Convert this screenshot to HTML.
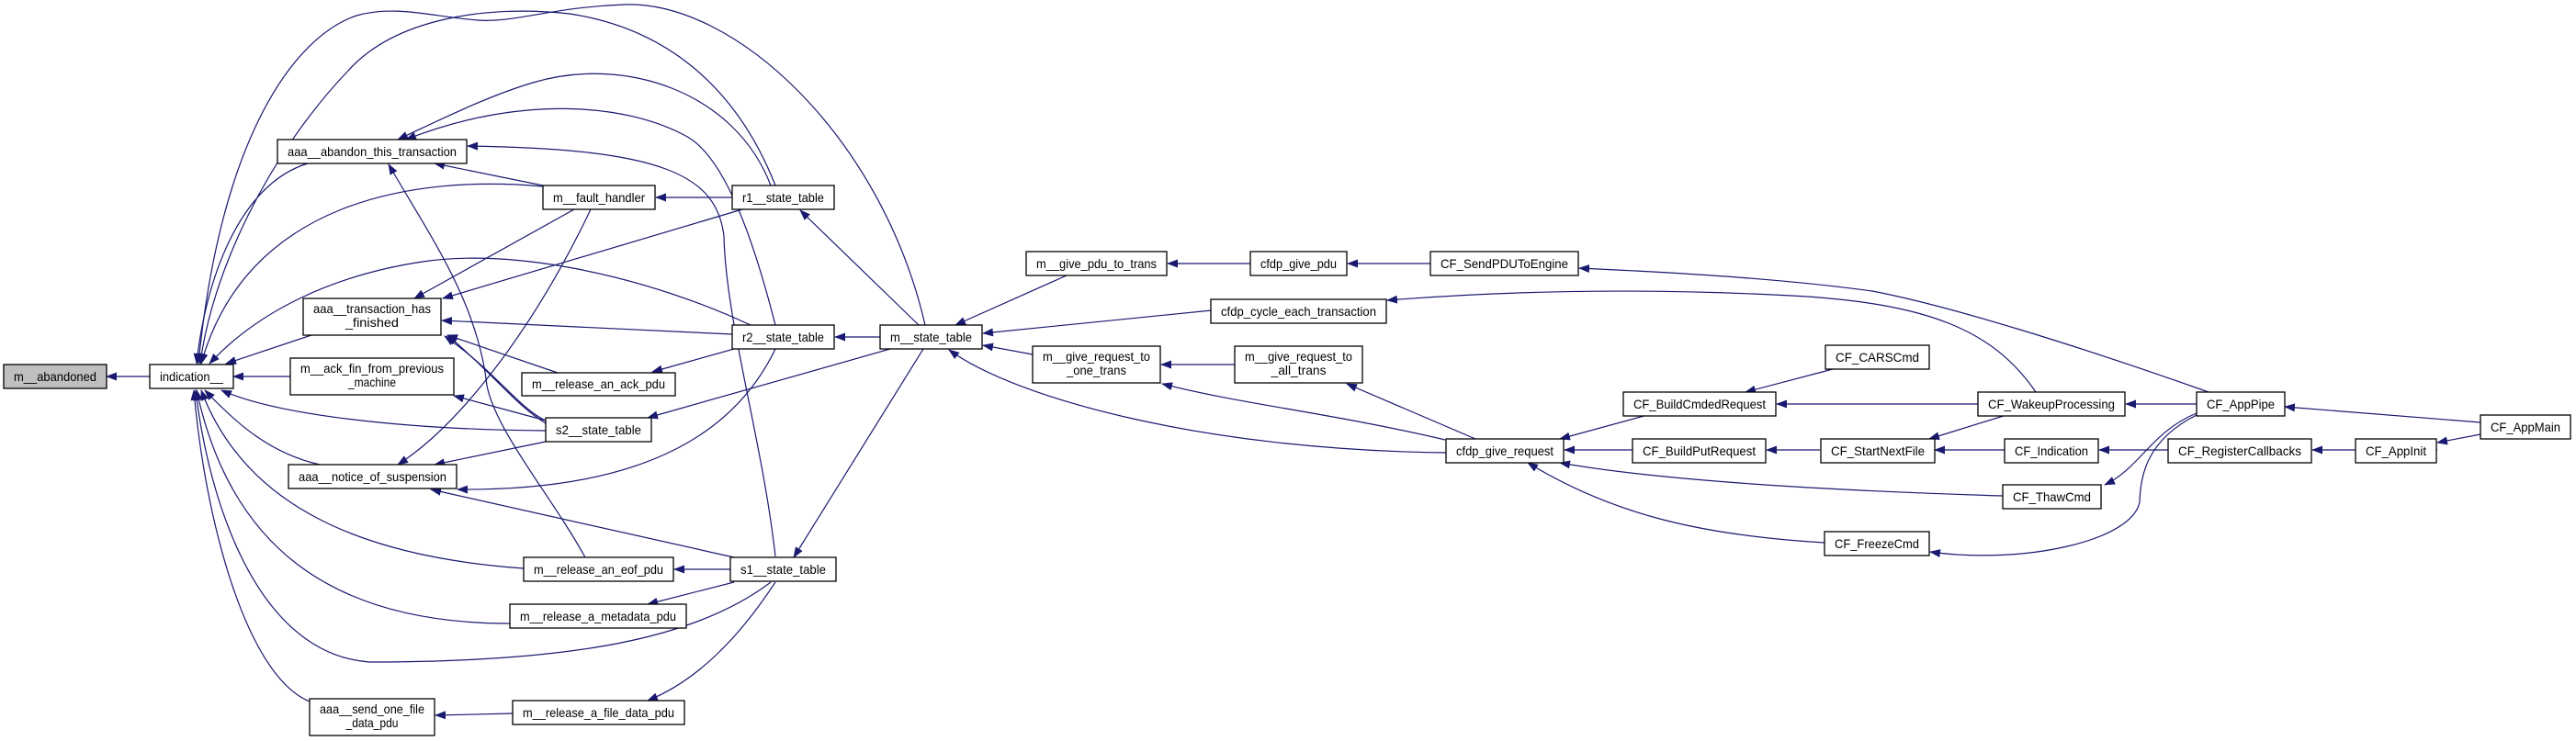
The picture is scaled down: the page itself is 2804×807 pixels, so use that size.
<!DOCTYPE html>
<html><head><meta charset="utf-8"><style>
html,body{margin:0;padding:0;background:#fff;}
svg{display:block;}
text{font-family:"Liberation Sans",sans-serif;font-size:14px;fill:#000;}
.n{fill:#fff;stroke:#000;stroke-width:1.3;}
.e{fill:none;stroke:#191970;stroke-width:1.2;}
</style></head><body>
<svg width="2804" height="807" viewBox="0 0 2804 807" xmlns="http://www.w3.org/2000/svg">
<defs><marker id="a" markerWidth="12" markerHeight="9" refX="11" refY="4.5" orient="auto" markerUnits="userSpaceOnUse"><path d="M0,0 L12,4.5 L0,9 z" fill="#191970"/></marker></defs>
<g class="e" marker-end="url(#a)">
<path d="M163,410 L116,410"/>
<path d="M335,178 C259,201 223,309 214,396"/>
<path d="M591,203 C447,190 268,221 219,396"/>
<path d="M1007,354 C960,150 800,0 679,5 C600,8 560,25 520,22 C470,18 430,5 388,17 C320,40 240,150 216,396"/>
<path d="M844,202 C800,90 720,30 620,15 C530,5 430,20 379,77 C290,170 230,300 218,396"/>
<path d="M817,354 C700,300 560,270 460,285 C360,300 280,340 228,396"/>
<path d="M342,364 L246,396"/>
<path d="M316,410 L254,410"/>
<path d="M594,469 C447,468 304,453 241,425"/>
<path d="M348,506 C295,494 259,463 223,425"/>
<path d="M570,619 C402,607 268,556 219,425"/>
<path d="M555,679 C357,679 250,592 214,425"/>
<path d="M839,634 C759,695 625,721 402,721 C268,711 223,515 213,425"/>
<path d="M337,764 C268,736 223,566 211,425"/>
<path d="M591,202 L473,178"/>
<path d="M839,202 C800,100 680,60 580,90 C530,105 480,130 433,152"/>
<path d="M844,354 C820,260 790,175 750,150 C680,110 560,105 442,152"/>
<path d="M844,606 C830,480 790,350 788,257 C780,190 720,162 509,159"/>
<path d="M637,607 C600,540 540,470 530,420 C520,330 470,260 423,179"/>
<path d="M625,228 L451,325"/>
<path d="M808,228 L482,325"/>
<path d="M797,364 L481,349"/>
<path d="M607,406 L487,365"/>
<path d="M594,461 C560,440 540,410 487,365"/>
<path d="M594,458 C565,445 540,405 484,366"/>
<path d="M594,458 L494,431"/>
<path d="M643,228 C580,360 500,463 433,506"/>
<path d="M594,481 L473,506"/>
<path d="M844,380 C804,463 714,535 498,533"/>
<path d="M799,607 L469,533"/>
<path d="M797,215 L714,215"/>
<path d="M799,380 L710,405"/>
<path d="M958,367 L909,367"/>
<path d="M969,380 L705,455"/>
<path d="M1000,354 L871,229"/>
<path d="M1005,380 L864,607"/>
<path d="M795,620 L734,620"/>
<path d="M799,634 L705,658"/>
<path d="M844,634 C804,695 759,741 705,763"/>
<path d="M558,777 L474,779"/>
<path d="M1161,300 L1040,354"/>
<path d="M1319,338 L1070,363"/>
<path d="M1124,386 L1070,376"/>
<path d="M1574,493 C1308,490 1104,433 1033,381"/>
<path d="M1361,287 L1271,287"/>
<path d="M1557,287 L1467,287"/>
<path d="M1344,397 L1264,397"/>
<path d="M1573,479 C1450,450 1350,440 1265,418"/>
<path d="M1606,478 L1466,418"/>
<path d="M2404,427 C2263,377 2122,333 2038,317 C1950,305 1850,298 1719,292"/>
<path d="M2216,427 C2170,360 2100,330 1950,322 C1800,314 1650,316 1510,327"/>
<path d="M1793,452 L1698,478"/>
<path d="M1777,490 L1703,490"/>
<path d="M2180,540 C1947,533 1787,520 1698,504"/>
<path d="M1986,591 C1851,583 1755,560 1663,504"/>
<path d="M1995,402 L1900,427"/>
<path d="M2153,440 L1934,440"/>
<path d="M1981,490 L1923,490"/>
<path d="M2184,452 L2100,478"/>
<path d="M2182,490 L2106,490"/>
<path d="M2360,490 L2285,490"/>
<path d="M2391,440 L2314,440"/>
<path d="M2391,450 C2342,470 2329,510 2291,528"/>
<path d="M2391,452 C2335,480 2330,520 2329,547 C2320,590 2200,615 2101,601"/>
<path d="M2700,460 L2487,443"/>
<path d="M2564,490 L2653,490" marker-end="none"/>
<path d="M2564,490 L2517,490"/>
<path d="M2700,473 L2653,482"/>
</g>
<g>
<rect class="n" x="4" y="397" width="112" height="26" style="fill:#bfbfbf"/><text x="60" y="415" text-anchor="middle" textLength="90" lengthAdjust="spacingAndGlyphs">m__abandoned</text>
<rect class="n" x="163" y="397" width="91" height="26"/><text x="208.5" y="415" text-anchor="middle" textLength="69" lengthAdjust="spacingAndGlyphs">indication__</text>
<rect class="n" x="302" y="152" width="206" height="26"/><text x="405" y="170" text-anchor="middle" textLength="184" lengthAdjust="spacingAndGlyphs">aaa__abandon_this_transaction</text>
<rect class="n" x="330" y="325" width="150" height="40"/><text x="405" y="341" text-anchor="middle" textLength="128" lengthAdjust="spacingAndGlyphs">aaa__transaction_has</text><text x="405" y="356" text-anchor="middle" textLength="58" lengthAdjust="spacingAndGlyphs">_finished</text>
<rect class="n" x="316" y="390" width="178" height="40"/><text x="405" y="406" text-anchor="middle" textLength="156" lengthAdjust="spacingAndGlyphs">m__ack_fin_from_previous</text><text x="405" y="421" text-anchor="middle" textLength="52" lengthAdjust="spacingAndGlyphs">_machine</text>
<rect class="n" x="314" y="506" width="183" height="26"/><text x="405.5" y="524" text-anchor="middle" textLength="161" lengthAdjust="spacingAndGlyphs">aaa__notice_of_suspension</text>
<rect class="n" x="337" y="761" width="136" height="40"/><text x="405" y="777" text-anchor="middle" textLength="114" lengthAdjust="spacingAndGlyphs">aaa__send_one_file</text><text x="405" y="792" text-anchor="middle" textLength="57" lengthAdjust="spacingAndGlyphs">_data_pdu</text>
<rect class="n" x="591" y="202" width="122" height="26"/><text x="652" y="220" text-anchor="middle" textLength="100" lengthAdjust="spacingAndGlyphs">m__fault_handler</text>
<rect class="n" x="568" y="406" width="167" height="25"/><text x="651.5" y="423" text-anchor="middle" textLength="145" lengthAdjust="spacingAndGlyphs">m__release_an_ack_pdu</text>
<rect class="n" x="594" y="455" width="115" height="26"/><text x="651.5" y="473" text-anchor="middle" textLength="93" lengthAdjust="spacingAndGlyphs">s2__state_table</text>
<rect class="n" x="570" y="607" width="163" height="26"/><text x="651.5" y="625" text-anchor="middle" textLength="141" lengthAdjust="spacingAndGlyphs">m__release_an_eof_pdu</text>
<rect class="n" x="555" y="658" width="192" height="26"/><text x="651" y="676" text-anchor="middle" textLength="170" lengthAdjust="spacingAndGlyphs">m__release_a_metadata_pdu</text>
<rect class="n" x="558" y="763" width="187" height="26"/><text x="651.5" y="781" text-anchor="middle" textLength="165" lengthAdjust="spacingAndGlyphs">m__release_a_file_data_pdu</text>
<rect class="n" x="797" y="202" width="111" height="26"/><text x="852.5" y="220" text-anchor="middle" textLength="89" lengthAdjust="spacingAndGlyphs">r1__state_table</text>
<rect class="n" x="797" y="354" width="111" height="26"/><text x="852.5" y="372" text-anchor="middle" textLength="89" lengthAdjust="spacingAndGlyphs">r2__state_table</text>
<rect class="n" x="795" y="607" width="115" height="26"/><text x="852.5" y="625" text-anchor="middle" textLength="93" lengthAdjust="spacingAndGlyphs">s1__state_table</text>
<rect class="n" x="958" y="354" width="111" height="26"/><text x="1013.5" y="372" text-anchor="middle" textLength="89" lengthAdjust="spacingAndGlyphs">m__state_table</text>
<rect class="n" x="1117" y="274" width="153" height="26"/><text x="1193.5" y="292" text-anchor="middle" textLength="131" lengthAdjust="spacingAndGlyphs">m__give_pdu_to_trans</text>
<rect class="n" x="1361" y="274" width="105" height="26"/><text x="1413.5" y="292" text-anchor="middle" textLength="83" lengthAdjust="spacingAndGlyphs">cfdp_give_pdu</text>
<rect class="n" x="1557" y="274" width="161" height="26"/><text x="1637.5" y="292" text-anchor="middle" textLength="139" lengthAdjust="spacingAndGlyphs">CF_SendPDUToEngine</text>
<rect class="n" x="1318" y="326" width="191" height="26"/><text x="1413.5" y="344" text-anchor="middle" textLength="169" lengthAdjust="spacingAndGlyphs">cfdp_cycle_each_transaction</text>
<rect class="n" x="1124" y="377" width="139" height="40"/><text x="1193.5" y="393" text-anchor="middle" textLength="117" lengthAdjust="spacingAndGlyphs">m__give_request_to</text><text x="1193.5" y="408" text-anchor="middle" textLength="65" lengthAdjust="spacingAndGlyphs">_one_trans</text>
<rect class="n" x="1344" y="377" width="139" height="40"/><text x="1413.5" y="393" text-anchor="middle" textLength="117" lengthAdjust="spacingAndGlyphs">m__give_request_to</text><text x="1413.5" y="408" text-anchor="middle" textLength="60" lengthAdjust="spacingAndGlyphs">_all_trans</text>
<rect class="n" x="1574" y="478" width="128" height="26"/><text x="1638" y="496" text-anchor="middle" textLength="106" lengthAdjust="spacingAndGlyphs">cfdp_give_request</text>
<rect class="n" x="1987" y="376" width="113" height="26"/><text x="2043.5" y="394" text-anchor="middle" textLength="91" lengthAdjust="spacingAndGlyphs">CF_CARSCmd</text>
<rect class="n" x="1767" y="427" width="166" height="26"/><text x="1850" y="445" text-anchor="middle" textLength="144" lengthAdjust="spacingAndGlyphs">CF_BuildCmdedRequest</text>
<rect class="n" x="2153" y="427" width="160" height="26"/><text x="2233" y="445" text-anchor="middle" textLength="138" lengthAdjust="spacingAndGlyphs">CF_WakeupProcessing</text>
<rect class="n" x="2391" y="427" width="96" height="26"/><text x="2439" y="445" text-anchor="middle" textLength="74" lengthAdjust="spacingAndGlyphs">CF_AppPipe</text>
<rect class="n" x="2700" y="452" width="98" height="26"/><text x="2749" y="470" text-anchor="middle" textLength="76" lengthAdjust="spacingAndGlyphs">CF_AppMain</text>
<rect class="n" x="1777" y="478" width="145" height="26"/><text x="1849.5" y="496" text-anchor="middle" textLength="123" lengthAdjust="spacingAndGlyphs">CF_BuildPutRequest</text>
<rect class="n" x="1982" y="478" width="124" height="26"/><text x="2044" y="496" text-anchor="middle" textLength="102" lengthAdjust="spacingAndGlyphs">CF_StartNextFile</text>
<rect class="n" x="2182" y="478" width="102" height="26"/><text x="2233" y="496" text-anchor="middle" textLength="80" lengthAdjust="spacingAndGlyphs">CF_Indication</text>
<rect class="n" x="2360" y="478" width="156" height="26"/><text x="2438" y="496" text-anchor="middle" textLength="134" lengthAdjust="spacingAndGlyphs">CF_RegisterCallbacks</text>
<rect class="n" x="2564" y="478" width="88" height="26"/><text x="2608" y="496" text-anchor="middle" textLength="66" lengthAdjust="spacingAndGlyphs">CF_AppInit</text>
<rect class="n" x="2180" y="528" width="107" height="26"/><text x="2233.5" y="546" text-anchor="middle" textLength="85" lengthAdjust="spacingAndGlyphs">CF_ThawCmd</text>
<rect class="n" x="1986" y="579" width="114" height="26"/><text x="2043" y="597" text-anchor="middle" textLength="92" lengthAdjust="spacingAndGlyphs">CF_FreezeCmd</text>
</g>
</svg>
</body></html>
